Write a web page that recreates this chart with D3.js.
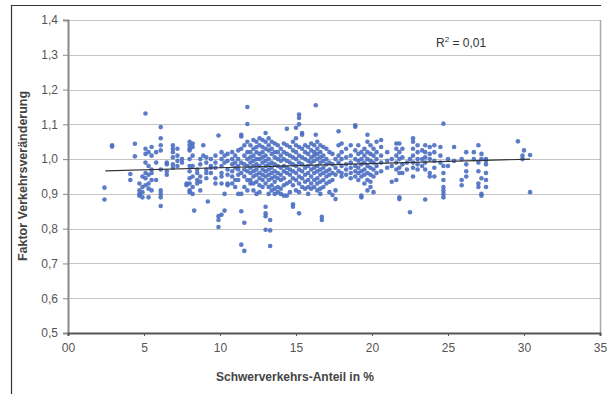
<!DOCTYPE html>
<html><head><meta charset="utf-8">
<script src="https://cdn.jsdelivr.net/npm/d3@7"></script>
<style>html,body{margin:0;padding:0;background:#fff;}svg{display:block;}</style>
</head><body>
<svg id="chart" width="614" height="394"></svg>
<script>
// Tick labels
const xTicks = [0, 5, 10, 15, 20, 25, 30, 35];
const xTickLabels = ["00", "5", "10", "15", "20", "25", "30", "35"];
const yTicks = [0.5, 0.6, 0.7, 0.8, 0.9, 1.0, 1.1, 1.2, 1.3, 1.4];
const yTickLabels = ["0,5", "0,6", "0,7", "0,8", "0,9", "1,0", "1,1", "1,2", "1,3", "1,4"];
const xTitle = "Schwerverkehrs-Anteil in %";
const yTitle = "Faktor Verkehrsveränderung";
const r2Label = "0,01";

// Linear trend line end points (Schwerverkehrs-Anteil, Faktor)
const trendX = [2.46, 30.4];
const trendY = [0.966, 1.0];

// Measurements grouped by Schwerverkehrs-Anteil (x) with their factors (y)
const shareGroups = [
 [2.4,[0.918,0.884]],
 [2.9,[1.04,1.036]],
 [4.1,[0.957,0.94]],
 [4.4,[1.044,1.008]],
 [4.7,[0.93,0.91,0.9,0.895]],
 [4.9,[0.92,0.905,0.89,0.95]],
 [5.1,[1.131,1.03,1.015,0.99,0.96,0.945,0.925]],
 [5.3,[1.02,0.98,0.955,0.93,0.915,0.89]],
 [5.5,[1.035,1.01,0.97,0.96,0.94,0.91]],
 [5.8,[1.02,0.99,0.94]],
 [6.1,[1.092,1.06,1.04,1.025,0.97,0.91,0.9,0.89,0.865]],
 [6.5,[0.985,0.99,0.965,0.955]],
 [6.9,[1.04,1.03,1.02,1.005,0.985,0.975]],
 [7.2,[1.03,1.01,0.995,0.98]],
 [7.5,[1.0,0.99]],
 [7.8,[0.93,0.925]],
 [8.0,[1.05,1.04,1.03,1.025,1.0,0.98,0.965,0.945,0.93,0.91,0.905]],
 [8.2,[1.045,1.035,1.01,0.98,0.95,0.92,0.9]],
 [8.3,[0.852]],
 [8.5,[0.97,0.96,0.94,0.93]],
 [8.7,[1.0,0.985,0.95,0.935,0.91]],
 [8.9,[1.04,1.01]],
 [9.1,[0.99,0.97,0.96,0.945,1.005]],
 [9.2,[0.878]],
 [9.4,[1.0,0.98,0.975,0.96]],
 [9.7,[1.01,0.99,0.975,0.945,0.93]],
 [9.9,[1.068,0.836,0.825,0.805]],
 [10.1,[1.02,1.0,0.98,0.96,0.95,0.93,0.84]],
 [10.3,[0.852,0.9,0.99,1.01]],
 [10.5,[1.015,0.995,0.97,0.955,0.93,0.925]],
 [10.8,[1.02,1.0,0.985,0.965,0.95,0.93]],
 [11.0,[1.01,0.99,0.975,0.94,0.92]],
 [11.2,[1.025,1.0,0.98,0.97,0.955,0.94,0.9]],
 [11.4,[1.07,1.065,1.03,0.99,0.96,0.85,0.754,0.9]],
 [11.6,[0.736,0.817,1.04,1.01,0.985,0.97,0.95,0.92]],
 [11.8,[1.15,1.101,1.05,1.02,1.0,0.98,0.965,0.94,0.91]],
 [12.0,[1.04,1.02,1.005,0.99,0.975,0.96,0.94,0.93]],
 [12.2,[1.055,1.03,1.01,0.995,0.98,0.965,0.95,0.93,0.91]],
 [12.4,[1.05,1.035,1.02,1.0,0.985,0.97,0.955,0.935,0.9]],
 [12.6,[1.06,1.04,1.015,1.0,0.98,0.96,0.945,0.925,0.905]],
 [12.8,[1.055,1.035,1.02,1.005,0.99,0.97,0.955,0.94,0.92]],
 [13.0,[1.075,1.05,1.03,1.01,0.995,0.98,0.965,0.95,0.93,0.863,0.844,0.836,0.797]],
 [13.2,[1.06,1.04,1.025,1.0,0.985,0.97,0.955,0.94,0.92,0.9]],
 [13.3,[0.75,0.795,0.825]],
 [13.4,[1.05,1.03,1.015,0.99,0.975,0.96,0.945,0.925,0.91]],
 [13.6,[1.045,1.02,1.005,0.985,0.965,0.95,0.935,0.915,0.9]],
 [13.8,[1.04,1.02,1.0,0.98,0.96,0.945,0.92,0.905]],
 [14.0,[1.03,1.01,0.995,0.975,0.955,0.94,0.915,0.9]],
 [14.2,[1.045,1.02,1.0,0.98,0.965,0.945,0.925,0.895]],
 [14.4,[1.087,1.04,1.015,0.995,0.975,0.96,0.93,0.895]],
 [14.6,[1.035,1.01,0.99,0.97,0.955,0.935,0.905]],
 [14.8,[1.05,1.025,1.005,0.985,0.965,0.945,0.925,0.87,0.863]],
 [15.0,[1.09,1.06,1.04,1.02,1.0,0.98,0.96,0.94,0.91]],
 [15.2,[1.128,1.118,1.1,1.035,1.01,0.99,0.97,0.95,0.93,0.905,0.844]],
 [15.4,[1.075,1.07,1.03,1.005,0.985,0.965,0.945,0.92]],
 [15.6,[1.04,1.02,1.0,0.975,0.955,0.935,0.915]],
 [15.8,[1.035,1.015,0.995,0.98,0.96,0.94,0.92,0.9]],
 [16.0,[1.045,1.025,1.005,0.99,0.97,0.95,0.93,0.915]],
 [16.2,[1.04,1.02,1.01,0.995,0.975,0.96,0.94,0.92]],
 [16.3,[1.155,1.07]],
 [16.4,[1.05,1.03,1.015,1.0,0.98,0.965,0.945,0.93,0.91]],
 [16.6,[1.04,1.02,1.005,0.99,0.97,0.955,0.935,0.915,0.9]],
 [16.7,[0.834,0.825]],
 [16.8,[1.035,1.01,0.995,0.975,0.96,0.94,0.92]],
 [17.0,[1.03,1.0,0.985,0.965,0.95,0.93]],
 [17.2,[1.02,0.99,0.97,0.955,0.935,0.905]],
 [17.4,[1.015,0.985,0.96,0.94,0.897]],
 [17.6,[1.0,0.975,0.955,0.91,0.885]],
 [17.8,[1.08,1.04,1.01,0.99,0.965]],
 [18.0,[1.045,1.02,1.0,0.98,0.96,0.95]],
 [18.3,[1.03,1.005,0.985,0.97,0.955]],
 [18.6,[1.04,1.01,0.99,0.975,0.96,0.945]],
 [18.9,[1.097,1.093,1.025,1.0,0.98,0.965,0.95]],
 [19.1,[1.04,1.015,0.995,0.975,0.96,0.94]],
 [19.3,[1.02,1.0,0.985,0.965,0.95,0.89,0.895]],
 [19.5,[1.03,1.01,0.99,0.97,0.955,0.93]],
 [19.7,[1.07,1.05,1.02,1.0,0.98,0.96,0.94,0.91]],
 [19.9,[1.04,1.015,0.995,0.975,0.955,0.935,0.92]],
 [20.1,[1.03,1.01,0.99,0.97,0.95,0.905]],
 [20.3,[1.05,1.02,1.0,0.98,0.96]],
 [20.6,[1.055,1.035,1.01,0.99,0.965]],
 [21.0,[1.02,0.995,0.975]],
 [21.3,[1.0,0.98,0.935]],
 [21.6,[1.045,1.03,1.01,0.99,0.97,0.94]],
 [21.8,[1.045,1.02,1.0,0.975,0.96,0.89,0.885]],
 [22.0,[1.03,1.005,0.985,0.96]],
 [22.3,[0.99,0.97]],
 [22.5,[0.847,1.0]],
 [22.7,[1.06,1.05,1.03,1.01,0.99,0.975,0.95]],
 [23.0,[1.04,1.02,1.0,0.985,0.97]],
 [23.3,[1.025,1.0,0.98]],
 [23.5,[1.04,1.02,1.005,0.99,0.884,0.97]],
 [23.8,[1.035,1.015,1.0,0.96,0.95]],
 [24.1,[1.04,1.02,0.995,0.975,0.95]],
 [24.5,[1.035,1.01,0.99]],
 [24.7,[1.102,0.98,0.96,0.94,0.92,0.91,0.9,0.89]],
 [25.0,[1.0,0.98]],
 [25.4,[1.035,0.995]],
 [25.9,[1.0,0.94,0.925]],
 [26.2,[1.02,0.985,0.965,0.95]],
 [26.7,[1.02,1.0]],
 [27.0,[1.04,0.99,0.965,0.93,0.92]],
 [27.2,[1.015,1.0,0.945,0.9,0.895]],
 [27.5,[1.0,0.995,0.985,0.96,0.94,0.92]],
 [29.6,[1.051]],
 [29.9,[1.01,1.0]],
 [30.0,[1.025]],
 [30.4,[1.012,0.905]]
];

const points = shareGroups.flatMap(([x, ys]) => ys.map(y => ({x, y})));

const svg = d3.select("#chart");
const plot = {left: 68, right: 600, top: 20, bottom: 333};
const x = d3.scaleLinear().domain([0, 35]).range([plot.left, plot.right]);
const y = d3.scaleLinear().domain([0.5, 1.4]).range([plot.bottom, plot.top]);
const font = "'Liberation Sans', Arial, sans-serif";

// outer frame (cropped at right/bottom)
svg.append("path")
  .attr("d", `M11.5,394 L11.5,5.5 L601,5.5`)
  .attr("fill", "none").attr("stroke", "#333").attr("stroke-width", 1.2);

// gridlines
svg.append("g").selectAll("line").data(yTicks.slice(1)).join("line")
  .attr("x1", plot.left).attr("x2", plot.right)
  .attr("y1", d => Math.round(y(d)) + 0.5).attr("y2", d => Math.round(y(d)) + 0.5)
  .attr("stroke", "#c4c4c4").attr("stroke-width", 1);

// plot border right
svg.append("line").attr("x1", plot.right + 0.5).attr("x2", plot.right + 0.5)
  .attr("y1", plot.top).attr("y2", plot.bottom)
  .attr("stroke", "#a8a8a8").attr("stroke-width", 1.5);

// y axis
const yAxis = d3.axisLeft(y).tickValues(yTicks)
  .tickFormat((d, i) => yTickLabels[i]).tickSize(5).tickPadding(5);
const gy = svg.append("g").attr("transform", `translate(${plot.left},0)`).call(yAxis);
gy.select(".domain").attr("stroke", "#8a8a8a").attr("stroke-width", 2);
gy.selectAll(".tick line").attr("stroke", "#8a8a8a");
gy.selectAll("text").attr("font-family", font).attr("font-size", 12).attr("fill", "#555");

// x axis
const xAxis = d3.axisBottom(x).tickValues(xTicks)
  .tickFormat((d, i) => xTickLabels[i]).tickSize(3).tickPadding(7);
const gx = svg.append("g").attr("transform", `translate(0,${plot.bottom})`).call(xAxis);
gx.select(".domain").attr("stroke", "#555").attr("stroke-width", 2);
gx.selectAll(".tick line").attr("stroke", "#555");
gx.selectAll("text").attr("font-family", font).attr("font-size", 12).attr("fill", "#555");

// points
svg.append("g").selectAll("circle").data(points).join("circle")
  .attr("cx", d => x(d.x)).attr("cy", d => y(d.y)).attr("r", 2.3)
  .attr("fill", "#4a6ec2").attr("fill-opacity", 0.9);

// trend line
svg.append("path")
  .datum(trendX.map((v, i) => [v, trendY[i]]))
  .attr("d", d3.line().x(d => x(d[0])).y(d => y(d[1])))
  .attr("fill", "none").attr("stroke", "#333").attr("stroke-width", 1.2);

// R² label
const r2 = svg.append("text").attr("x", 436).attr("y", 47)
  .attr("font-family", font).attr("font-size", 12).attr("fill", "#333");
r2.append("tspan").text("R");
r2.append("tspan").attr("dy", -5).attr("font-size", 8).text("2");
r2.append("tspan").attr("dy", 5).text(" = " + r2Label);

// axis titles
svg.append("text").attr("x", 295).attr("y", 381).attr("text-anchor", "middle")
  .attr("font-family", font).attr("font-size", 12).attr("font-weight", "bold")
  .attr("fill", "#444").text(xTitle);
svg.append("text").attr("transform", `translate(27,176) rotate(-90)`)
  .attr("text-anchor", "middle")
  .attr("font-family", font).attr("font-size", 12.5).attr("font-weight", "bold")
  .attr("fill", "#444").text(yTitle);
</script>
</body></html>
